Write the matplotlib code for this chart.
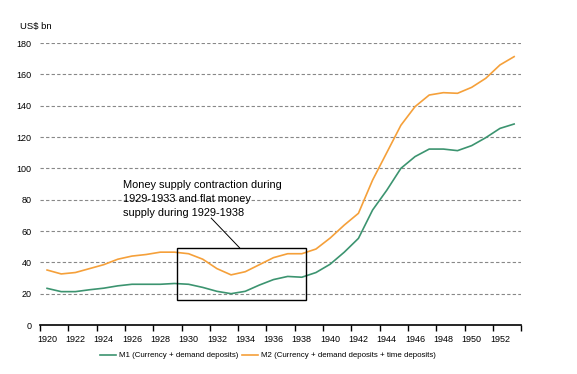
import matplotlib.pyplot as plt
import matplotlib.patches as mpatches
import numpy as np

plt.rcParams['font.family'] = ['Liberation Sans', 'DejaVu Sans']

# Data (US$ bn)
years = list(range(1920, 1954))
m1 = [23.4, 21.3, 21.3, 22.5, 23.5, 25.0, 26.0, 26.0, 26.0, 26.5,
      26.0, 24.0, 21.5, 20.0, 21.5, 25.5, 29.0, 31.0, 30.5, 33.5,
      38.8, 46.5, 55.3, 73.4, 86.0, 100.0, 107.5, 112.3, 112.3, 111.3,
      114.5, 119.6, 125.5, 128.3]
m2 = [35.1, 32.6, 33.5, 36.0, 38.5, 42.0, 44.0, 45.0, 46.5, 46.5,
      45.5, 42.0, 36.0, 32.0, 34.0, 38.5, 43.0, 45.5, 45.5, 48.5,
      55.5, 63.8, 71.3, 92.5, 110.0, 127.5, 139.4, 146.8, 148.3, 147.9,
      151.7, 157.5, 166.0, 171.3]
tick_years = list(range(1920, 1953, 2))
y_ticks = list(range(0, 181, 20))

# Highlight box (years, US$ bn)
box_x0, box_x1 = 1929.2, 1938.3
box_y0, box_y1 = 16.0, 49.3
note = "Money supply contraction during\n1929-1933 and flat money\nsupply during 1929-1938"

green = '#3c9470'
orange = '#f5a03a'

fig = plt.figure(figsize=(5.77, 3.74), dpi=100)
ax = fig.add_axes([0.0693, 0.131, 0.834, 0.754])

ax.plot(years, m1, color=green, lw=1.2, label='M1 (Currency + demand deposits)')
ax.plot(years, m2, color=orange, lw=1.2, label='M2 (Currency + demand deposits + time deposits)')

ax.set_xlim(1919.5, 1953.5)
ax.set_ylim(0, 180)

# category-style axis: ticks at boundaries, labels at centres
ax.set_xticks([y - 0.5 for y in tick_years] + [1953.5])
ax.set_xticklabels([])
ax.set_xticks(tick_years, minor=True)
ax.set_xticklabels([str(y) for y in tick_years], minor=True, fontsize=6.5)
ax.tick_params(axis='x', which='major', length=4, width=1, direction='out', color='black')
ax.tick_params(axis='x', which='minor', length=0, pad=7)

ax.set_yticks(y_ticks)
ax.set_yticklabels([str(v) for v in y_ticks], fontsize=6.5)
ax.tick_params(axis='y', length=0, pad=6)

for v in y_ticks[1:]:
    ax.axhline(v, color='#888888', lw=0.8, ls=(0, (3, 2)), zorder=0)

for s in ['top', 'right', 'left']:
    ax.spines[s].set_visible(False)
ax.spines['bottom'].set_linewidth(1.2)

ax.add_patch(mpatches.Rectangle((box_x0, box_y0), box_x1 - box_x0, box_y1 - box_y0,
                                fill=False, edgecolor='black', lw=1, zorder=3))
ax.text(1925.35, 92.5, note, fontsize=7.9, va='top', ha='left', linespacing=1.5)
ax.plot([1931.6, 1933.6], [68.2, box_y1], color='black', lw=0.7)

fig.text(0.035, 0.922, 'US$ bn', fontsize=6.8)

ax.legend(loc='upper center', bbox_to_anchor=(0.474, -0.07), ncol=2, frameon=False,
          fontsize=5.7, handlelength=2.0, columnspacing=0.5, handletextpad=0.4)

fig.savefig('out.png', dpi=100)
